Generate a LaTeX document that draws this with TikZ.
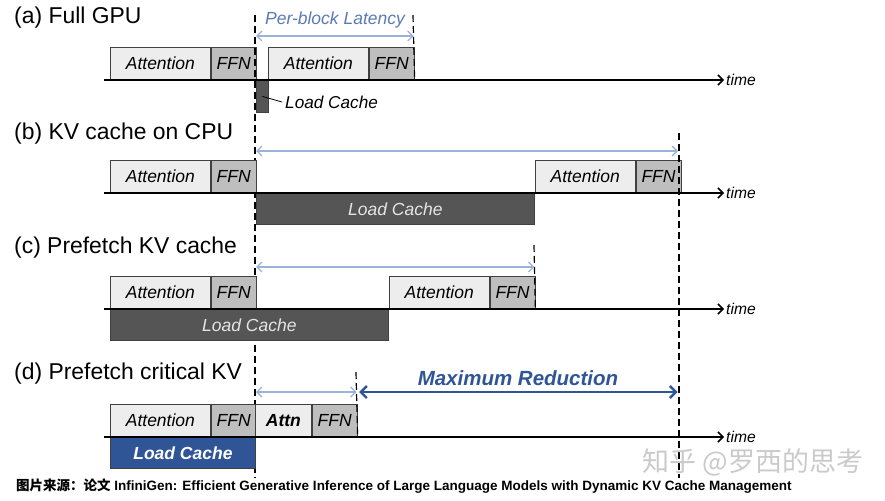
\documentclass[tikz,border=0pt]{standalone}
\usepackage{fontspec}
\setmainfont{Liberation Sans}
\newfontfamily\cjk{Noto Sans CJK SC}
\usetikzlibrary{arrows.meta,positioning}

\definecolor{attnfill}{HTML}{EDEDED}
\definecolor{ffnfill}{HTML}{BEBEBE}
\definecolor{cachefill}{HTML}{555555}
\definecolor{latblue}{HTML}{9CB2D9}
\definecolor{lattext}{HTML}{5A7AB5}
\definecolor{redblue}{HTML}{2F5597}
\definecolor{wmgray}{HTML}{CACACA}

\tikzset{
  blk/.style={draw=black!75, line width=0.8pt, inner sep=0pt, minimum height=32pt,
    anchor=south west, font=\fontsize{17.5}{20}\selectfont\itshape},
  attn/.style={blk, fill=attnfill, minimum width=100pt},
  ffn/.style={blk, fill=ffnfill, minimum width=45pt},
  cache/.style={draw=black!75, line width=0.8pt, fill=cachefill, text=black!10,
    inner sep=0pt, minimum height=31pt, anchor=north west,
    font=\fontsize{17.5}{20}\selectfont\itshape},
  tline/.style={line width=1.5pt, -{Straight Barb[length=5pt,width=10pt]}},
  tlbl/.style={anchor=west, inner sep=2pt, font=\fontsize{15.6}{18}\selectfont\itshape},
  ttl/.style={anchor=west, inner sep=0pt, font=\fontsize{22.9}{26}\selectfont},
  vdash/.style={line width=1.2pt, dash pattern=on 7pt off 4pt},
  lat/.style={latblue, line width=1.3pt, shorten <=1pt, shorten >=1pt,
    {Straight Barb[length=5pt,width=10pt]}-{Straight Barb[length=5pt,width=10pt]}},
}

\begin{document}
\begin{tikzpicture}[x=1pt, y=-1pt]
\useasboundingbox (0,0) rectangle (885,500);

% (a)
\node[ttl] (ta) at (14,18) {(a) Full GPU};
\node[attn] (a1att) at (110,80) {Attention};
\node[ffn, right=0pt of a1att] (a1ffn) {FFN};
\node[attn] (a2att) at (268,80) {Attention};
\node[ffn, right=0pt of a2att] (a2ffn) {FFN};
\node[cache, minimum width=12pt, minimum height=32pt] (alc) at (256,80) {};
\node[anchor=west, inner sep=3pt, font=\fontsize{17.2}{20}\selectfont\itshape] (alcl) at (282,102) {Load Cache};
\draw[line width=0.8pt] (alc.center) -- (alcl.west);
\coordinate (a0) at (104,80);
\node[tlbl] (timea) at (724,80) {time};
\draw[tline] (a0) -- (timea.west);

\coordinate (d1t) at (255,15);
\coordinate (d1b) at (255,478);
\draw[vdash] (d1t) -- (d1b);
\coordinate (d2t) at (413,15);
\draw[vdash] (d2t) -- (a2ffn.south east);
\coordinate (la0) at (255,36);
\draw[lat] (la0) -- (a2ffn.north east |- la0);
\node[text=lattext, font=\fontsize{17.5}{20}\selectfont\itshape] (plat) at (335,20) {Per-block Latency};

% (b)
\node[ttl] (tb) at (14,134) {(b) KV cache on CPU};
\node[attn] (b1att) at (110,193) {Attention};
\node[ffn, right=0pt of b1att] (b1ffn) {FFN};
\node[cache, minimum width=278pt] (blc) at (256,193) {Load Cache};
\node[attn] (b2att) at (blc.north east) {Attention};
\node[ffn, right=0pt of b2att] (b2ffn) {FFN};
\coordinate (b0) at (104,193);
\node[tlbl] (timeb) at (724,193) {time};
\draw[tline] (b0) -- (timeb.west);

\coordinate (d3t) at (679,133);
\coordinate (d3b) at (679,478);
\draw[vdash] (d3t) -- (d3b);
\coordinate (lb0) at (255,151);
\draw[lat] (lb0) -- (d3t |- lb0);

% (c)
\node[ttl] (tc) at (14,248) {(c) Prefetch KV cache};
\node[attn] (c1att) at (110,309) {Attention};
\node[ffn, right=0pt of c1att] (c1ffn) {FFN};
\node[cache, minimum width=278pt] (clc) at (110,309) {Load Cache};
\node[attn] (c2att) at (clc.north east) {Attention};
\node[ffn, right=0pt of c2att] (c2ffn) {FFN};
\coordinate (c0) at (104,309);
\node[tlbl] (timec) at (724,309) {time};
\draw[tline] (c0) -- (timec.west);

\coordinate (d4t) at (534,245);
\draw[vdash] (d4t) -- (c2ffn.south east);
\coordinate (lc0) at (255,267);
\draw[lat] (lc0) -- (c2ffn.north east |- lc0);

% (d)
\node[ttl] (td) at (14,374) {(d) Prefetch critical KV};
\node[attn] (d1att) at (110,437) {Attention};
\node[ffn, right=0pt of d1att] (d1ffn) {FFN};
\node[attn, minimum width=56pt, font=\fontsize{17.5}{20}\selectfont\bfseries\itshape] (d2att) at (255,437) {Attn};
\node[ffn, right=0pt of d2att] (d2ffn) {FFN};
\node[cache, minimum width=145pt, fill=redblue, text=white, font=\fontsize{17.5}{20}\selectfont\bfseries\itshape] (dlc) at (110,437) {Load Cache};
\coordinate (e0) at (104,437);
\node[tlbl] (timed) at (724,437) {time};
\draw[tline] (e0) -- (timed.west);

\coordinate (d5t) at (356,372);
\draw[vdash] (d5t) -- (d2ffn.south east);
\coordinate (ld0) at (255,392);
\draw[lat] (ld0) -- (d2ffn.north east |- ld0);
\draw[redblue, line width=2.4pt, shorten <=1.5pt, shorten >=1.5pt,
  {Straight Barb[length=6pt,width=12pt]}-{Straight Barb[length=6pt,width=12pt]}]
  (d2ffn.north east |- ld0) -- (d3t |- ld0);
\node[text=redblue, font=\fontsize{20.5}{24}\selectfont\bfseries\itshape] (maxred) at (518,378) {Maximum Reduction};

% source
\node[text=wmgray, font=\cjk\fontsize{27}{30}\selectfont] (wm) at (753,462) {知乎 @罗西的思考};
\node[anchor=west, inner sep=0pt, font=\fontsize{13.5}{16}\selectfont\bfseries] (src) at (16,486)
  {{\cjk 图片来源：论文} InfiniGen: Efficient Generative Inference of Large Language Models with Dynamic KV Cache Management};
\end{tikzpicture}
\end{document}
